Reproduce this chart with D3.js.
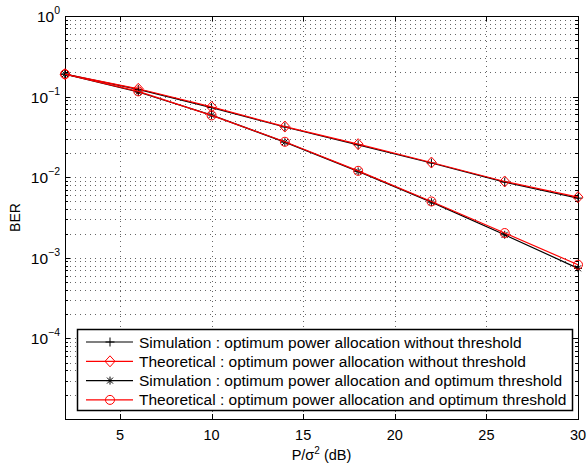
<!DOCTYPE html>
<html>
<head>
<meta charset="utf-8">
<script src="https://cdn.jsdelivr.net/npm/d3@7"></script>
<style>
  body { margin: 0; background: #fff; }
  text { font-family: "Liberation Sans", Arial, Helvetica, sans-serif; }
</style>
</head>
<body>
<div id="chart"></div>
<script>
// data
const snr = [2, 6, 10, 14, 18, 22, 26, 30];
const simNoThr = [0.19, 0.123, 0.073, 0.042, 0.0252, 0.0150, 0.0087, 0.0055];
const theoNoThr = [0.19, 0.125, 0.0745, 0.0425, 0.0257, 0.0152, 0.00885, 0.00566];
const simOptThr = [0.19, 0.114, 0.059, 0.0272, 0.0118, 0.0049, 0.00193, 0.00074];
const theoOptThr = [0.19, 0.116, 0.0585, 0.0275, 0.012, 0.0050, 0.00203, 0.00082];
const xTicks = [5, 10, 15, 20, 25, 30];
const yDecades = [-5, -4, -3, -2, -1, 0];
const yLabelDecades = [-4, -3, -2, -1, 0];
const legendLabels = [
    "Simulation : optimum power allocation without threshold",
    "Theoretical : optimum power allocation without threshold",
    "Simulation : optimum power allocation and optimum threshold",
    "Theoretical : optimum power allocation and optimum threshold"
];

const W = 587, H = 468;
const margin = {top: 16, right: 9, bottom: 49, left: 65};
const width = W - margin.left - margin.right;
const height = H - margin.top - margin.bottom;

const svg = d3.select("#chart").append("svg")
    .attr("width", W)
    .attr("height", H);

const g = svg.append("g")
    .attr("transform", `translate(${margin.left},${margin.top})`);

const x = d3.scaleLinear().domain([2, 30]).range([0, width]);
const y = d3.scaleLog().domain([1e-5, 1]).range([height, 0]);

// minor values for the log grid
let minorVals = [];
yDecades.slice(0, -1).forEach(e => {
    for (let k = 2; k <= 9; k++) minorVals.push(k * Math.pow(10, e));
});
const majorVals = yDecades.map(e => Math.pow(10, e));

// grid
const grid = g.append("g")
    .attr("stroke", "#666")
    .attr("stroke-width", 1)
    .attr("stroke-dasharray", "1,4");

grid.selectAll(".hgrid")
    .data(minorVals.concat(majorVals.slice(1, -1)))
    .enter().append("line")
    .attr("x1", 0).attr("x2", width)
    .attr("y1", d => Math.round(y(d)) + 0.5)
    .attr("y2", d => Math.round(y(d)) + 0.5);

grid.selectAll(".vgrid")
    .data(xTicks.slice(0, -1))
    .enter().append("line")
    .attr("y1", 0).attr("y2", height)
    .attr("x1", d => Math.round(x(d)) + 0.5)
    .attr("x2", d => Math.round(x(d)) + 0.5);

// ticks (inward, all four sides)
const ticks = g.append("g").attr("stroke", "#000").attr("stroke-width", 1);
xTicks.forEach(v => {
    let px = Math.round(x(v)) + 0.5;
    ticks.append("line").attr("x1", px).attr("x2", px).attr("y1", height).attr("y2", height - 5);
    ticks.append("line").attr("x1", px).attr("x2", px).attr("y1", 0).attr("y2", 5);
});
majorVals.forEach(v => {
    let py = Math.round(y(v)) + 0.5;
    ticks.append("line").attr("x1", 0).attr("x2", 5).attr("y1", py).attr("y2", py);
    ticks.append("line").attr("x1", width).attr("x2", width - 5).attr("y1", py).attr("y2", py);
});
minorVals.forEach(v => {
    let py = Math.round(y(v)) + 0.5;
    ticks.append("line").attr("x1", 0).attr("x2", 3).attr("y1", py).attr("y2", py);
    ticks.append("line").attr("x1", width).attr("x2", width - 3).attr("y1", py).attr("y2", py);
});

// box
g.append("rect")
    .attr("x", 0.5).attr("y", 0.5)
    .attr("width", width).attr("height", height)
    .attr("fill", "none").attr("stroke", "#000").attr("stroke-width", 1);

// tick labels
g.selectAll(".xlab")
    .data(xTicks)
    .enter().append("text")
    .attr("x", d => x(d))
    .attr("y", height + 21)
    .attr("text-anchor", "middle")
    .attr("font-size", 14.5)
    .text(d => d);

const ylab = g.selectAll(".ylab")
    .data(yLabelDecades)
    .enter().append("text")
    .attr("x", -5)
    .attr("y", d => y(Math.pow(10, d)) + 6)
    .attr("text-anchor", "end")
    .attr("font-size", 15.5);
ylab.append("tspan").text("10");
ylab.append("tspan")
    .attr("dy", -8)
    .attr("font-size", 10.5)
    .text(d => d === 0 ? "0" : "\u2212" + (-d));

// axis titles
g.append("text")
    .attr("x", width / 2)
    .attr("y", height + 41)
    .attr("text-anchor", "middle")
    .attr("font-size", 14.5)
    .html('P/σ<tspan dy="-6" font-size="10">2</tspan><tspan dy="6"> (dB)</tspan>');

g.append("text")
    .attr("transform", `translate(${-45},${height / 2}) rotate(-90)`)
    .attr("text-anchor", "middle")
    .attr("font-size", 14)
    .text("BER");

// series
const line = d3.line()
    .x(d => x(d[0]))
    .y(d => y(d[1]));

const series = [
    {vals: simNoThr, color: "#000", marker: "plus"},
    {vals: theoNoThr, color: "#ff0000", marker: "diamond"},
    {vals: simOptThr, color: "#000", marker: "star"},
    {vals: theoOptThr, color: "#ff0000", marker: "circle"}
];

function drawMarker(sel, type, color) {
    if (type === "plus") {
        sel.append("path").attr("d", "M-4.5,0H4.5M0,-4.5V4.5")
            .attr("stroke", color).attr("fill", "none");
    } else if (type === "diamond") {
        sel.append("path").attr("d", "M0,-5.5L5,0L0,5.5L-5,0Z")
            .attr("stroke", color).attr("fill", "none");
    } else if (type === "star") {
        sel.append("path").attr("d", "M-4,0H4M0,-4V4M-3,-3L3,3M-3,3L3,-3")
            .attr("stroke", color).attr("fill", "none");
    } else if (type === "circle") {
        sel.append("circle").attr("r", 4.5)
            .attr("stroke", color).attr("fill", "none");
    }
}

const plot = g.append("g");
series.forEach(s => {
    let pts = snr.map((v, i) => [v, s.vals[i]]);
    plot.append("path")
        .datum(pts)
        .attr("d", line)
        .attr("fill", "none")
        .attr("stroke", s.color)
        .attr("stroke-width", 1.2);
    plot.selectAll(null)
        .data(pts)
        .enter().append("g")
        .attr("transform", d => `translate(${x(d[0])},${y(d[1])})`)
        .each(function () { drawMarker(d3.select(this), s.marker, s.color); });
});

// legend
const leg = g.append("g").attr("transform", "translate(12,313)");
leg.append("rect")
    .attr("x", 0.5).attr("y", 0.5)
    .attr("width", 495).attr("height", 81)
    .attr("fill", "#fff").attr("stroke", "#000").attr("stroke-width", 1.5);

series.forEach((s, i) => {
    let row = leg.append("g").attr("transform", `translate(0,${13 + i * 19.3})`);
    row.append("line")
        .attr("x1", 9).attr("x2", 56)
        .attr("stroke", s.color).attr("stroke-width", 1.2);
    let m = row.append("g").attr("transform", "translate(33,0)");
    drawMarker(m, s.marker, s.color);
    row.append("text")
        .attr("x", 62)
        .attr("y", 5.5)
        .attr("font-size", 15.5)
        .text(legendLabels[i]);
});
</script>
</body>
</html>
